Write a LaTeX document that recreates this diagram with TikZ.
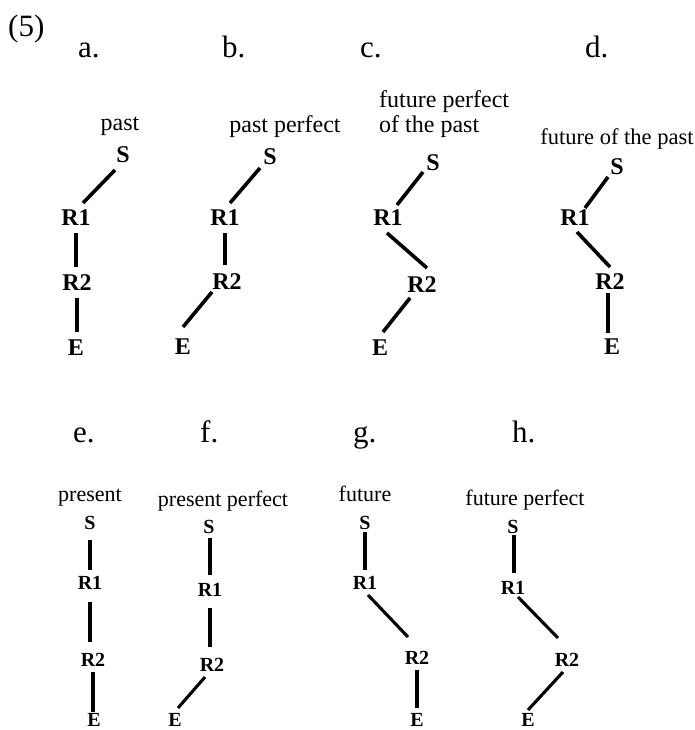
\documentclass[tikz,border=0pt]{standalone}
\usepackage{fontspec}
\setmainfont{Liberation Serif}
\tikzset{
  x=1pt, y=1pt,
  tag/.style={inner sep=0pt, anchor=base west, font=\fontsize{31}{31}\selectfont},
  lab/.style={inner sep=0pt, anchor=base, font=\fontsize{24}{24}\selectfont},
  labs/.style={inner sep=0pt, anchor=base, font=\fontsize{22}{22}\selectfont},
  pt/.style={inner sep=0pt, anchor=center, font=\fontsize{24}{24}\selectfont\bfseries},
  pts/.style={inner sep=0pt, anchor=center, font=\fontsize{20}{20}\selectfont\bfseries},
  edge/.style={line width=3.6pt},
  edges/.style={line width=3.1pt}
}
\begin{document}
\begin{tikzpicture}
\useasboundingbox (0,0) rectangle (694,730);
\fill[white] (0,0) rectangle (694,730);
% headings
\node[tag] (n5) at (8,693) {(5)};
\node[tag] (la) at (78,672) {a.};
\node[tag] (lb) at (222,672) {b.};
\node[tag] (lc) at (360,672) {c.};
\node[tag] (ld) at (585,672) {d.};
\node[tag] (le) at (73,287) {e.};
\node[tag] (lf) at (200,287) {f.};
\node[tag] (lg) at (353,287) {g.};
\node[tag] (lh) at (512,287) {h.};
% panel a
\node[lab] (ta) at (120,599) {past};
\node[pt] (aS) at (123,575) {S};
\node[pt] (aR1) at (76,512) {R1};
\node[pt] (aR2) at (77,447) {R2};
\node[pt] (aE) at (76,382) {E};
\draw[edge] ([shift={(-8,-15)}]aS.center) -- ([shift={(7,15)}]aR1.center);
\draw[edge] ([shift={(0,-15)}]aR1.center) -- ([shift={(-1,16)}]aR2.center);
\draw[edge] ([shift={(0,-15)}]aR2.center) -- ([shift={(1,16)}]aE.center);
% panel b
\node[lab] (tb) at (285,597) {past perfect};
\node[pt] (bS) at (270,573) {S};
\node[pt] (bR1) at (225,512) {R1};
\node[pt] (bR2) at (227,448) {R2};
\node[pt] (bE) at (183,383) {E};
\draw[edge] ([shift={(-10,-11)}]bS.center) -- ([shift={(5,15)}]bR1.center);
\draw[edge] ([shift={(0,-15)}]bR1.center) -- ([shift={(-2,17)}]bR2.center);
\draw[edge] ([shift={(-15,-10)}]bR2.center) -- ([shift={(0,20)}]bE.center);
% panel c
\node[lab, anchor=base west] (tc1) at (379,622) {future perfect};
\node[lab, anchor=base west] (tc2) at (379,597) {of the past};
\node[pt] (cS) at (433,567) {S};
\node[pt] (cR1) at (388,512) {R1};
\node[pt] (cR2) at (422,445) {R2};
\node[pt] (cE) at (380,382) {E};
\draw[edge] ([shift={(-10,-9)}]cS.center) -- ([shift={(9,13)}]cR1.center);
\draw[edge] ([shift={(-1,-15)}]cR1.center) -- ([shift={(5,17)}]cR2.center);
\draw[edge] ([shift={(-12,-13)}]cR2.center) -- ([shift={(3,16)}]cE.center);
% panel d
\node[lab, font=\fontsize{22.5}{22.5}\selectfont] (td) at (617,585) {future of the past};
\node[pt] (dS) at (617,563) {S};
\node[pt] (dR1) at (575,512) {R1};
\node[pt] (dR2) at (610,448) {R2};
\node[pt] (dE) at (612,383) {E};
\draw[edge] ([shift={(-9,-10)}]dS.center) -- ([shift={(10,10)}]dR1.center);
\draw[edge] ([shift={(2,-14)}]dR1.center) -- ([shift={(0,15)}]dR2.center);
\draw[edge] ([shift={(-2,-11)}]dR2.center) -- ([shift={(-4,14)}]dE.center);
% panel e
\node[labs] (te) at (90,228) {present};
\node[pts] (eS) at (90,207) {S};
\node[pts] (eR1) at (90,147) {R1};
\node[pts] (eR2) at (93,70) {R2};
\node[pts] (eE) at (94,10) {E};
\draw[edges] ([shift={(0,-17)}]eS.center) -- ([shift={(0,13)}]eR1.center);
\draw[edges] ([shift={(0,-19)}]eR1.center) -- ([shift={(-3,18)}]eR2.center);
\draw[edges] ([shift={(0,-12)}]eR2.center) -- ([shift={(-1,8)}]eE.center);
% panel f
\node[labs] (tf) at (223,223) {present perfect};
\node[pts] (fS) at (209,203) {S};
\node[pts] (fR1) at (210,140) {R1};
\node[pts] (fR2) at (212,65) {R2};
\node[pts] (fE) at (175,10) {E};
\draw[edges] ([shift={(1,-11)}]fS.center) -- ([shift={(0,15)}]fR1.center);
\draw[edges] ([shift={(0,-18)}]fR1.center) -- ([shift={(-2,18)}]fR2.center);
\draw[edges] ([shift={(-7,-12)}]fR2.center) -- ([shift={(3,12)}]fE.center);
% panel g
\node[labs] (tg) at (365,228) {future};
\node[pts] (gS) at (365,207) {S};
\node[pts] (gR1) at (365,147) {R1};
\node[pts] (gR2) at (417,72) {R2};
\node[pts] (gE) at (417,10) {E};
\draw[edges] ([shift={(0,-9)}]gS.center) -- ([shift={(0,13)}]gR1.center);
\draw[edges] ([shift={(3,-12)}]gR1.center) -- ([shift={(-9,21)}]gR2.center);
\draw[edges] ([shift={(0,-12)}]gR2.center) -- ([shift={(0,12)}]gE.center);
% panel h
\node[labs] (th) at (525,224) {future perfect};
\node[pts] (hS) at (513,203) {S};
\node[pts] (hR1) at (513,142) {R1};
\node[pts] (hR2) at (567,70) {R2};
\node[pts] (hE) at (528,10) {E};
\draw[edges] ([shift={(1,-8)}]hS.center) -- ([shift={(1,15)}]hR1.center);
\draw[edges] ([shift={(5,-9)}]hR1.center) -- ([shift={(-9,22)}]hR2.center);
\draw[edges] ([shift={(-4,-12)}]hR2.center) -- ([shift={(0,10)}]hE.center);
\end{tikzpicture}
\end{document}
